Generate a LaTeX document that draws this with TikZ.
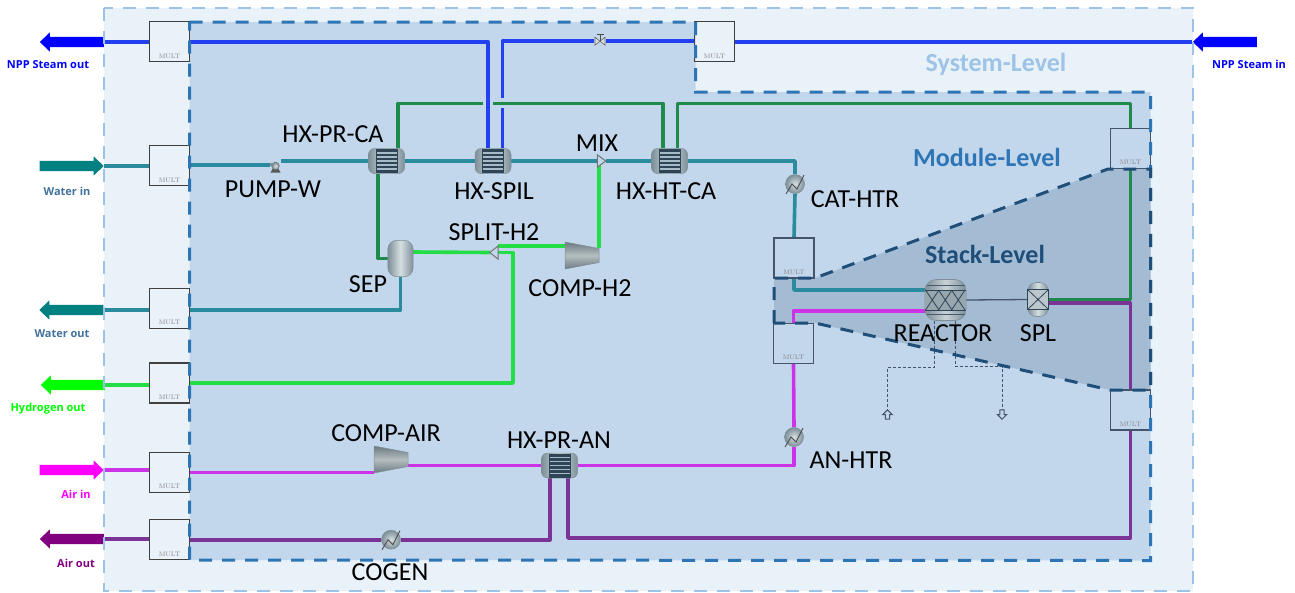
\documentclass[tikz,border=0pt]{standalone}
\usepackage{fontspec}
\setmainfont{Carlito}
\newfontfamily\sidefont{Open Sans}
\usetikzlibrary{shapes.arrows,calc}
\pgfdeclarelayer{regions}
\pgfdeclarelayer{streams}
\pgfsetlayers{regions,streams,main}
\definecolor{sysfill}{HTML}{E9F1F9}
\definecolor{sysline}{HTML}{9DC3E6}
\definecolor{modfill}{HTML}{C3D7EC}
\definecolor{modline}{HTML}{2E75B6}
\definecolor{stkfill}{HTML}{A3BCD4}
\definecolor{stkline}{HTML}{1F4E79}
\definecolor{cSteam}{HTML}{2340F0}
\definecolor{cWater}{HTML}{2A8A9E}
\definecolor{cDkGreen}{HTML}{1F8A4C}
\definecolor{cLtGreen}{HTML}{22DD44}
\definecolor{cMag}{HTML}{CC33E6}
\definecolor{cPurp}{HTML}{7A3496}
\definecolor{shellA}{HTML}{7E8F98}
\definecolor{shellB}{HTML}{D5DFE2}
\definecolor{tube}{HTML}{2E4457}
\definecolor{stripe}{HTML}{A8BBC8}
\definecolor{boxdk}{HTML}{404040}
\definecolor{boxbl}{HTML}{44546A}
\definecolor{pureBlue}{HTML}{0000FF}
\definecolor{pureTeal}{HTML}{008080}
\definecolor{pureGreen}{HTML}{00FF00}
\definecolor{pureMag}{HTML}{FF00FF}
\definecolor{purePurp}{HTML}{800080}
\definecolor{txtWater}{HTML}{41719C}
\tikzset{
  stream/.style={line width=3.6pt,line join=round},
  steam/.style={stream,draw=cSteam},
  water/.style={stream,draw=cWater},
  dkgreen/.style={stream,draw=cDkGreen},
  ltgreen/.style={stream,draw=cLtGreen},
  magline/.style={stream,draw=cMag},
  purpline/.style={stream,draw=cPurp},
  multbox/.style={draw=#1,line width=1.4pt,minimum width=40pt,minimum height=40pt,inner sep=0pt},
  multbox/.default=boxdk,
  multtext/.style={font=\fontfamily{lmr}\fontsize{6.5}{7}\selectfont,text=black!50,inner sep=0pt},
  ghost/.style={inner sep=0pt,draw=none},
  lab/.style={font=\fontsize{26}{28}\selectfont,text=black,inner sep=0pt},
  level/.style={font=\bfseries\fontsize{26}{28}\selectfont,inner sep=0pt},
  side/.style={font=\sidefont\bfseries\fontsize{11}{12}\selectfont,inner sep=0pt},
  blockarrow/.style={single arrow,fill=#1,draw=none,minimum height=64pt,
    single arrow head extend=4.5pt,single arrow tip angle=87,inner sep=0pt},
  vent/.style={draw=boxbl,line width=1pt,dash pattern=on 3pt off 2pt},
  ventshape/.style={draw=boxbl,fill=modfill,line width=1pt,line join=miter},
  shell/.style={draw=shellA,line width=0.5pt,left color=shellA,right color=shellA,middle color=shellB},
}
\newcommand{\barstrut}{\rule{0pt}{10pt}}
\newcommand{\multunit}[4][boxdk]{%
  \node[multbox=#1] (#2) at (#3,#4) {};
  \node[multtext] (#2t) at ([yshift=6.5pt]#2.south) {MULT};
}
\newcommand{\hxicon}[3]{%
  \node[ghost,minimum width=36pt,minimum height=25pt] (#1) at (#2,#3) {};
  \begin{scope}[shift={(#1.center)}]
    \path[shell,rounded corners=6pt] (-18,-12.5) rectangle (18,12.5);
    \fill[tube] (-11,-12) rectangle (11,12);
    \foreach \yy in {-8,-4,0,4,8}{\fill[stripe] (-10,\yy-0.7) rectangle (10,\yy+0.7);}
  \end{scope}
}
\newcommand{\heater}[3]{%
  \node[ghost,circle,minimum size=19pt] (#1) at (#2,#3) {};
  \begin{scope}[shift={(#1.center)}]
    \path[draw=shellA,line width=0.5pt,inner color=shellB,outer color=shellA] (0,0) circle (9.5);
    \draw[black!70,line width=0.9pt] (-9,10) -- (-3,0) -- (2,5) -- (9,-9);
  \end{scope}
}
\newcommand{\compressor}[3]{%
  \node[ghost,minimum width=34pt,minimum height=27pt] (#1) at (#2,#3) {};
  \begin{scope}[shift={(#1.center)}]
    \path[draw=shellA,line width=0.5pt,top color=shellA!85!black,bottom color=shellA!85!black,middle color=shellB!85!black]
      (-17,-13.5) -- (17,-7) -- (17,7) -- (-17,13.5) -- cycle;
  \end{scope}
}
\begin{document}
\begin{tikzpicture}[x=1pt,y=-1pt]
\useasboundingbox (0,0) rectangle (1295,592);
% --- equipment and boxes (named first)
\multunit{mNPPout}{169.5}{41.7}
\multunit{mWaterIn}{169.5}{165.7}
\multunit{mWaterOut}{169.5}{308.5}
\multunit{mHtwo}{169.5}{383}
\multunit{mAirIn}{169.5}{472.5}
\multunit{mAirOut}{169.5}{539.7}
\multunit{mNPPin}{714.5}{41.7}
\multunit[boxbl]{mCat}{794}{258}
\multunit[boxbl]{mAn}{793.5}{343.5}
\multunit[boxbl]{mCatOut}{1130.5}{148.5}
\multunit[boxbl]{mAnOut}{1130.5}{410}
\hxicon{hxca}{386.5}{161}
\hxicon{hxspil}{493}{161}
\hxicon{hxht}{669.5}{161}
\hxicon{hxan}{559.5}{465.5}
\heater{catH}{795}{184}
\heater{anH}{794}{437}
\heater{cogen}{391}{539.7}
\compressor{compH}{582}{255.5}
\compressor{compA}{391}{459.5}
% pump
\node[ghost,minimum width=11pt,minimum height=11pt] (pump) at (275.5,167) {};
\begin{scope}[shift={(pump.center)}]
  \fill[black!65] (-5,5.5) -- (5,5.5) -- (3,2) -- (-3,2) -- cycle;
  \path[draw=black!60,line width=0.5pt,inner color=shellB,outer color=shellA] (0,-1) circle (3.8);
  \fill[shellA] (-5.5,-4.5) rectangle (-2,-1);
\end{scope}
% valve
\node[ghost,minimum width=11pt,minimum height=10pt] (valve) at (600,41.2) {};
\begin{scope}[shift={(valve.center)}]
  \path[draw=black!60,line width=0.6pt,fill=shellB] (-5,-4) -- (5,4) -- (5,-4) -- (-5,4) -- cycle;
  \draw[black!70,line width=0.9pt] (0,0) -- (0,-6) (-3.5,-6.5) -- (3.5,-6.5);
\end{scope}
% mix and split
\node[ghost,minimum width=8pt,minimum height=12pt] (mix) at (601.5,161) {};
\path[draw=black!55,line width=1pt,fill=modfill] (mix.north west) -- (mix.east) -- (mix.south west) -- cycle;
\node[ghost,minimum width=8pt,minimum height=13pt] (split) at (494,252.5) {};
\path[draw=black!55,line width=1pt,fill=modfill] (split.north east) -- (split.west) -- (split.south east) -- cycle;
% separator
\node[ghost,minimum width=25pt,minimum height=36pt] (sep) at (400.5,258.5) {};
\path[shell,rounded corners=9pt] (sep.south west) rectangle (sep.north east);
% reactor
\node[ghost,minimum width=41pt,minimum height=41pt] (reactor) at (945.5,300) {};
\begin{scope}[shift={(reactor.center)}]
  \path[draw=shellA,line width=0.6pt,left color=shellA,right color=shellA,middle color=shellB!85!shellA,rounded corners=11pt]
     (-20.5,-20.5) rectangle (20.5,20.5);
  \fill[shellA!70!shellB] (-20.5,-10) rectangle (20.5,10);
  \draw[tube,line width=1pt] (-20.5,-10) -- (20.5,-10) (-20.5,10) -- (20.5,10);
  \draw[tube!70!shellA,line width=0.8pt] (-19,-14.5) -- (19,-14.5) (-19,14.5) -- (19,14.5);
  \foreach \xx in {-20,-7,6}{\draw[tube,line width=0.8pt] (\xx,-10) -- (\xx+13.5,10) (\xx,10) -- (\xx+13.5,-10);}
\end{scope}
% SPL
\node[ghost,minimum width=21pt,minimum height=34pt] (spl) at (1038,299.5) {};
\begin{scope}[shift={(spl.center)}]
  \path[draw=shellA,line width=0.6pt,left color=shellA,right color=shellA,middle color=shellB,rounded corners=9pt]
     (-10.5,-17) rectangle (10.5,17);
  \draw[tube,line width=0.9pt,fill=shellB!70!shellA] (-10.5,-10) rectangle (10.5,10);
  \draw[tube,line width=0.8pt] (-10.5,-10) -- (10.5,10) (-10.5,10) -- (10.5,-10);
\end{scope}
% boundary arrows
\node[blockarrow=pureBlue,shape border rotate=180] (aNPPout) at (74.5,42) {\barstrut};
\node[blockarrow=pureBlue,shape border rotate=180] (aNPPin) at (1227.5,42) {\barstrut};
\node[blockarrow=pureTeal] (aWaterIn) at (69,166) {\barstrut};
\node[blockarrow=pureTeal,shape border rotate=180] (aWaterOut) at (74,310) {\barstrut};
\node[blockarrow=pureGreen,shape border rotate=180] (aHtwo) at (75.5,385) {\barstrut};
\node[blockarrow=pureMag] (aAirIn) at (69,470) {\barstrut};
\node[blockarrow=purePurp,shape border rotate=180] (aAirOut) at (74.5,539) {\barstrut};
% outlet arrows
\node[ghost,minimum width=9pt,minimum height=9pt] (out1) at (887.5,414.5) {};
\path[ventshape] (out1.north) -- (out1.east) -- ++(-2.5,0) -- ([xshift=-2.5pt]out1.south east) -- ([xshift=2.5pt]out1.south west) -- ([xshift=2.5pt]out1.west) -- (out1.west) -- cycle;
\node[ghost,minimum width=9pt,minimum height=9pt] (out2) at (1002,414.5) {};
\path[ventshape] (out2.south) -- (out2.east) -- ++(-2.5,0) -- ([xshift=-2.5pt]out2.north east) -- ([xshift=2.5pt]out2.north west) -- ([xshift=2.5pt]out2.west) -- (out2.west) -- cycle;
% --- named bends
\coordinate (gapW) at (483,103.5);
\coordinate (gapE) at (493,103.5);
\coordinate (topR) at (1130.5,103.5);
\coordinate (gapBlueLow) at (502.5,108);
\coordinate (gapBlueHigh) at (502.5,98);
\coordinate (hBend) at (513,320);
\coordinate (pBend) at (700,538);
\coordinate (wBend) at (401,310);
% --- streams
\begin{pgfonlayer}{streams}
\draw[steam] (aNPPout.tail) -- (aNPPout.tail -| mNPPout.west);
\draw[steam] (mNPPout.east) -| ([xshift=-5pt]hxspil.north);
\draw[steam] ([xshift=9.5pt]hxspil.north) -- (gapBlueLow);
\draw[steam] (gapBlueHigh) |- (valve.west);
\draw[steam] (valve.east) -- (valve.east -| mNPPin.west);
\draw[steam] (mNPPin.east) -- (mNPPin.east -| aNPPin.tip);
\draw[water] (aWaterIn.tip) -- (aWaterIn.tip -| mWaterIn.west);
\draw[water] ([yshift=1pt]mWaterIn.east) -- ([yshift=1pt]mWaterIn.east -| pump.west);
\draw[water] (hxca.west -| pump.east) -- (hxca.west);
\draw[water] (hxca.east) -- (hxspil.west);
\draw[water] (hxspil.east) -- (mix.west);
\draw[water] (mix.east) -- (hxht.west);
\draw[water] (hxht.east) -| (catH.north);
\draw[water] (catH.south) -- (mCat.north);
\draw[water] (mCat.south) |- ([yshift=10pt]reactor.west);
\draw[water] (sep.south) |- (mWaterOut.east |- wBend);
\draw[water] (aWaterOut.tail) -- (aWaterOut.tail -| mWaterOut.west);
\draw[dkgreen] ([xshift=11.5pt]hxca.north) |- (gapW);
\draw[dkgreen] (gapE) -| ([xshift=-6.5pt]hxht.north);
\draw[dkgreen] ([xshift=8pt]hxht.north) |- (topR) -- (mCatOut.north);
\draw[dkgreen] (mCatOut.south) |- (spl.east);
\draw[dkgreen] ([xshift=-8.5pt]hxca.south) |- (sep.west);
\draw[ltgreen] ([yshift=6.5pt]sep.east) -- (split.west);
\draw[ltgreen] (split.north east) -- (split.north east -| compH.west);
\draw[ltgreen] ([yshift=7.5pt]compH.east) -- ([yshift=7.5pt]compH.east |- mix.south);
\draw[ltgreen] (split.east) -| (hBend) |- (mHtwo.east);
\draw[ltgreen] (aHtwo.tail) -- (aHtwo.tail -| mHtwo.west);
\draw[magline] (aAirIn.tip) -- (aAirIn.tip -| mAirIn.west);
\draw[magline] (mAirIn.east) -- (mAirIn.east -| compA.west);
\draw[magline] (hxan.west) -- (hxan.west -| compA.east);
\draw[magline] (hxan.east) -| (anH.south);
\draw[magline] (anH.north) -- (mAn.south);
\draw[magline] (mAn.north) |- ([yshift=-11pt]reactor.west);
\draw[purpline] (aAirOut.tail) -- (aAirOut.tail -| mAirOut.west);
\draw[purpline] (mAirOut.east) -- (mAirOut.east -| cogen.west);
\draw[purpline] (cogen.east) -| ([xshift=-9.5pt]hxan.south);
\draw[purpline] ([xshift=8.5pt]hxan.south) |- (pBend) -| (mAnOut.south);
\draw[purpline] (mAnOut.north) |- ([yshift=-3.5pt]spl.east);
\draw[boxbl,line width=1.3pt] (reactor.east) -- (spl.west);
\draw[vent] ([xshift=-11.5pt]reactor.south) -- ++(0,47) -| (out1.north);
\draw[vent] ([xshift=10pt]reactor.south) -- ++(0,46) -| (out2.north);
\end{pgfonlayer}
% --- level regions
\begin{pgfonlayer}{regions}
\fill[sysfill] (104,8) rectangle (1193,591);
\fill[modfill] (189.5,22) -- (695.5,22) -- (695.5,92) -- (1150.5,92) -- (1150.5,560.5) -- (189.5,560) -- cycle;
\fill[stkfill] (774,278) -- (815,278) -- (1108,169) -- (1150.5,169) -- (1150.5,390) -- (1110,390) -- (815,323) -- (774,323) -- cycle;
\end{pgfonlayer}
\draw[sysline,line width=2.6pt,dash pattern=on 13pt off 10pt] (104,8) rectangle (1193,591);
\draw[modline,line width=3pt,dash pattern=on 13pt off 10pt] (189.5,22) -- (695.5,22) -- (695.5,92) -- (1150.5,92) -- (1150.5,560.5) -- (189.5,560) -- cycle;
\draw[stkline,line width=3pt,dash pattern=on 13pt off 10pt] (774,323) -- (774,278) -- (815,278) -- (1108,169) -- (1150.5,169) -- (1150.5,390) -- (1110,390) -- (815,323) -- cycle;
% --- labels
\node[lab] (lHxPrCa) at (333,134) {HX-PR-CA};
\node[lab] (lPump) at (273,189) {PUMP-W};
\node[lab] (lHxSpil) at (494,191) {HX-SPIL};
\node[lab] (lMix) at (597,143) {MIX};
\node[lab] (lHxHt) at (666,191) {HX-HT-CA};
\node[lab] (lCat) at (855,199) {CAT-HTR};
\node[lab] (lSplit) at (494,232) {SPLIT-H2};
\node[lab] (lCompH) at (580,288) {COMP-H2};
\node[lab] (lSep) at (368,284) {SEP};
\node[lab] (lReactor) at (943,333) {REACTOR};
\node[lab] (lSpl) at (1038,333) {SPL};
\node[lab] (lCompA) at (386,433) {COMP-AIR};
\node[lab] (lHxAn) at (559,440) {HX-PR-AN};
\node[lab] (lAn) at (851,460) {AN-HTR};
\node[lab] (lCogen) at (390,572) {COGEN};
\node[level,text=sysline] (lSys) at (996,64) {System-Level};
\node[level,text=modline] (lMod) at (987,157) {Module-Level};
\node[level,text=stkline] (lStk) at (985,254) {Stack-Level};
\node[side,text=pureBlue] (sNPPout) at (48,65) {NPP Steam out};
\node[side,text=pureBlue] (sNPPin) at (1249,64) {NPP Steam in};
\node[side,text=txtWater] (sWaterIn) at (67,191) {Water in};
\node[side,text=txtWater] (sWaterOut) at (62,334) {Water out};
\node[side,text=pureGreen] (sHtwo) at (48,409) {Hydrogen out};
\node[side,text=pureMag] (sAirIn) at (76,494) {Air in};
\node[side,text=purePurp] (sAirOut) at (76,563) {Air out};
\end{tikzpicture}
\end{document}
